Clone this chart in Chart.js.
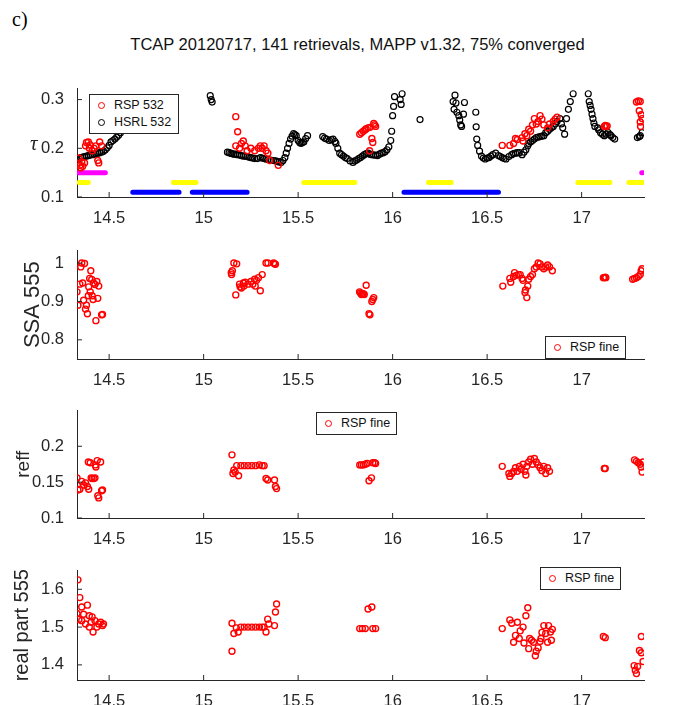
<!DOCTYPE html>
<html>
<head>
<meta charset="utf-8">
<script src="https://cdn.jsdelivr.net/npm/chart.js@4"></script>
<style>
  body { margin: 0; background: #fff; font-family: "Liberation Sans", Arial, sans-serif; }
  #wrap { position: relative; width: 685px; height: 705px; overflow: hidden; }
  .pane { position: absolute; left: 0; width: 685px; }
  .legend { position: absolute; background: #fff; border: 1px solid #262626; font-size: 12.5px; color: #111; padding: 2px 6px; line-height: 17px; }
  .mk { display: inline-block; width: 5px; height: 5px; border: 1.3px solid; border-radius: 50%; margin: 0 9px 0 2px; vertical-align: middle; }
</style>
</head>
<body>
<div id="wrap">
  <div style="position:absolute;left:12px;top:8px;font:20px 'Liberation Serif',serif;">c)</div>
  <div style="position:absolute;left:0;width:715px;top:35px;text-align:center;font-size:16.5px;color:#111;">TCAP 20120717, 141 retrievals, MAPP v1.32, 75% converged</div>

  <div class="pane" style="top:83px;height:144px"><canvas id="c1"></canvas></div>
  <div class="pane" style="top:245px;height:144px"><canvas id="c2"></canvas></div>
  <div class="pane" style="top:405px;height:143px"><canvas id="c3"></canvas></div>
  <div class="pane" style="top:565px;height:145px"><canvas id="c4"></canvas></div>

  <div style="position:absolute;left:30px;top:131px;font:italic 21px 'Liberation Serif',serif;color:#262626;">τ</div>
  <div class="legend" style="left:89px;top:94px;width:76px;"><span class="mk" style="border-color:#f00"></span>RSP 532<br><span class="mk" style="border-color:#000"></span>HSRL 532</div>
  <div class="legend" style="left:545px;top:336px;"><span class="mk" style="border-color:#f00"></span>RSP fine</div>
  <div class="legend" style="left:316px;top:412px;"><span class="mk" style="border-color:#f00"></span>RSP fine</div>
  <div class="legend" style="left:540px;top:567px;"><span class="mk" style="border-color:#f00"></span>RSP fine</div>
</div>
<script>
// x axis (hours UTC) shared by all panels
const xMin = 14.33, xMax = 17.33;
const xTicks = [14.5, 15, 15.5, 16, 16.5, 17];

// panel 1: optical depth at 532
const hsrl532 = [
  [14.33,0.176],[14.34,0.179],[14.35,0.181],[14.36,0.182],[14.37,0.183],[14.38,0.184],[14.39,0.185],[14.40,0.186],
  [14.41,0.187],[14.42,0.188],[14.43,0.189],[14.44,0.19],[14.45,0.191],[14.46,0.192],[14.47,0.194],[14.48,0.197],
  [14.49,0.201],[14.50,0.206],[14.51,0.213],[14.52,0.216],[14.53,0.219],[14.54,0.223],[14.55,0.227],[14.56,0.232],
  [14.57,0.24],[14.58,0.25],
  [15.035,0.308],[15.04,0.300],[15.045,0.295],
  [15.126,0.192],[15.135,0.191],[15.144,0.19],[15.15,0.189],[15.16,0.188],[15.17,0.188],[15.18,0.187],[15.19,0.186],
  [15.20,0.185],[15.21,0.184],[15.22,0.184],[15.23,0.183],[15.24,0.182],[15.25,0.181],[15.26,0.18],[15.27,0.179],
  [15.285,0.179],[15.30,0.181],[15.31,0.18],[15.32,0.179],[15.33,0.178],[15.34,0.177],[15.355,0.176],[15.37,0.175],
  [15.38,0.174],[15.39,0.173],[15.40,0.172],[15.41,0.171],[15.42,0.175],[15.43,0.181],[15.437,0.19],[15.444,0.2],
  [15.452,0.21],[15.46,0.219],[15.468,0.225],[15.476,0.23],[15.483,0.228],[15.49,0.226],[15.5,0.216],[15.508,0.212],
  [15.515,0.21],[15.522,0.212],[15.53,0.213],[15.54,0.22],[15.55,0.226],
  [15.63,0.224],[15.64,0.221],[15.65,0.219],[15.665,0.216],[15.675,0.218],[15.685,0.219],[15.695,0.214],[15.70,0.21],
  [15.71,0.2],[15.72,0.19],[15.73,0.187],[15.74,0.184],[15.75,0.181],[15.76,0.179],[15.775,0.174],[15.79,0.171],
  [15.80,0.174],[15.81,0.176],[15.82,0.179],[15.83,0.181],[15.84,0.184],[15.85,0.187],[15.86,0.189],[15.87,0.19],
  [15.88,0.188],[15.89,0.187],[15.90,0.186],[15.91,0.186],[15.92,0.185],[15.93,0.188],[15.94,0.19],[15.95,0.191],
  [15.96,0.193],[15.97,0.197],[15.98,0.203],[15.99,0.216],[15.995,0.235],[16.0,0.267],[16.005,0.286],[16.01,0.306],
  [16.04,0.30],[16.045,0.29],[16.05,0.312],
  [16.145,0.259],
  [16.32,0.296],[16.325,0.28],[16.33,0.309],[16.335,0.293],[16.34,0.274],[16.35,0.267],[16.355,0.258],[16.36,0.248],
  [16.365,0.245],[16.375,0.27],[16.38,0.294],
  [16.44,0.274],[16.442,0.244],
  [16.445,0.219],[16.45,0.206],[16.46,0.194],[16.47,0.184],[16.48,0.18],[16.49,0.178],[16.50,0.18],[16.51,0.181],
  [16.52,0.184],[16.53,0.187],[16.545,0.19],[16.56,0.185],[16.57,0.183],[16.58,0.181],[16.59,0.179],[16.60,0.178],
  [16.615,0.183],[16.63,0.187],[16.64,0.189],[16.65,0.19],[16.66,0.191],[16.67,0.191],[16.685,0.187],[16.695,0.192],
  [16.705,0.197],[16.715,0.205],[16.72,0.21],[16.73,0.213],[16.74,0.216],[16.75,0.219],[16.76,0.222],[16.77,0.223],
  [16.78,0.224],[16.79,0.225],[16.8,0.226],[16.81,0.232],[16.82,0.235],[16.83,0.239],[16.84,0.242],[16.85,0.245],
  [16.86,0.25],[16.87,0.255],[16.885,0.261],[16.893,0.25],[16.9,0.242],[16.91,0.229],[16.92,0.261],[16.93,0.28],
  [16.94,0.296],[16.955,0.312],
  [17.035,0.312],[17.04,0.296],[17.045,0.288],[17.05,0.28],[17.055,0.27],[17.06,0.261],[17.065,0.252],[17.07,0.245],
  [17.085,0.242],[17.09,0.238],[17.1,0.232],[17.11,0.229],[17.12,0.226],[17.13,0.229],[17.14,0.232],[17.15,0.228],
  [17.155,0.226],[17.165,0.222],[17.175,0.219],
  [17.295,0.222],[17.305,0.224],[17.31,0.226],[17.32,0.232]
];
const rsp532 = [
  [14.34,0.18],[14.345,0.165],[14.35,0.16],[14.355,0.172],[14.36,0.163],[14.37,0.17],[14.375,0.205],[14.38,0.212],
  [14.39,0.213],[14.395,0.2],[14.40,0.207],[14.41,0.195],[14.42,0.2],[14.43,0.205],[14.44,0.175],[14.445,0.17],
  [14.45,0.213],[14.46,0.205],
  [15.17,0.265],[15.18,0.234],[15.17,0.205],[15.19,0.2],[15.2,0.21],[15.21,0.215],[15.22,0.205],[15.23,0.195],
  [15.25,0.2],[15.27,0.195],[15.29,0.2],[15.3,0.205],[15.31,0.2],[15.32,0.205],[15.33,0.195],[15.34,0.19],
  [15.35,0.175],[15.395,0.165],
  [15.826,0.229],[15.835,0.232],[15.845,0.235],[15.855,0.238],[15.86,0.24],[15.87,0.242],[15.88,0.243],[15.878,0.195],
  [15.89,0.22],[15.895,0.212],[15.9,0.251],[15.905,0.248],[15.91,0.245],
  [16.58,0.206],[16.62,0.206],[16.64,0.21],[16.65,0.22],[16.66,0.218],[16.685,0.222],[16.69,0.215],[16.7,0.23],
  [16.71,0.226],[16.72,0.239],[16.73,0.235],[16.74,0.248],[16.75,0.261],[16.76,0.25],[16.77,0.255],[16.78,0.267],
  [16.79,0.26],[16.8,0.248],[16.82,0.242],[16.83,0.25],[16.85,0.255],[16.86,0.26],[16.87,0.264],
  [17.12,0.245],[17.125,0.247],[17.13,0.245],[17.135,0.246],
  [17.29,0.295],[17.3,0.297],[17.31,0.296],[17.305,0.277],[17.315,0.269],[17.32,0.261],[17.31,0.254],[17.312,0.245]
];
// flight-leg bars in panel 1: [start, end] per leg
const yellowLegs = [[14.34,14.39],[14.84,14.96],[15.53,15.8],[16.19,16.31],[16.98,17.15],[17.25,17.33]];
const blueLegs = [[14.625,14.87],[14.94,15.23],[16.06,16.56]];
const magentaLegs = [[14.33,14.48],[17.318,17.325]];

// panel 2: SSA 555
const ssa555 = [
  [14.33,0.925],[14.335,0.89],[14.345,0.945],[14.35,0.99],[14.355,1.0],[14.36,0.948],[14.365,0.903],[14.37,0.999],
  [14.375,0.88],[14.38,0.89],[14.385,0.868],[14.39,0.915],[14.392,0.938],[14.397,0.96],[14.40,0.925],[14.403,0.98],
  [14.408,0.957],[14.41,0.915],[14.415,0.905],[14.418,0.948],[14.425,0.944],[14.43,0.85],[14.435,0.952],[14.44,0.908],
  [14.445,0.94],[14.46,0.865],[14.465,0.866],
  [15.146,0.975],[15.148,0.97],[15.152,0.98],[15.16,1.0],[15.17,0.917],[15.175,0.998],[15.19,0.945],[15.193,0.938],
  [15.2,0.935],[15.21,0.948],[15.213,0.94],[15.22,0.95],[15.235,0.945],[15.25,0.952],[15.26,0.945],[15.27,0.958],
  [15.273,0.94],[15.28,0.955],[15.29,0.962],[15.3,0.928],[15.31,0.97],[15.33,1.0],[15.34,1.0],[15.37,1.0],[15.375,0.998],
  [15.38,0.997],
  [15.825,0.925],[15.83,0.922],[15.835,0.918],[15.84,0.92],[15.845,0.92],[15.85,0.918],[15.86,0.942],[15.875,0.868],
  [15.88,0.865],[15.89,0.9],[15.895,0.905],[15.9,0.91],
  [16.583,0.94],[16.62,0.96],[16.625,0.95],[16.64,0.965],[16.645,0.975],[16.655,0.968],[16.665,0.97],[16.675,0.97],
  [16.685,0.96],[16.69,0.955],[16.7,0.923],[16.703,0.93],[16.71,0.91],[16.715,0.94],[16.72,0.958],[16.73,0.965],
  [16.74,0.97],[16.75,0.985],[16.76,0.99],[16.77,1.0],[16.78,0.998],[16.79,0.99],[16.8,0.985],[16.81,0.99],[16.82,0.995],
  [16.83,0.99],[16.845,0.98],
  [17.115,0.962],[17.12,0.962],[17.125,0.963],[17.128,0.962],
  [17.27,0.958],[17.28,0.96],[17.29,0.962],[17.3,0.965],[17.31,0.97],[17.315,0.98],[17.32,0.985]
];

// panel 3: effective radius
const reff = [
  [14.33,0.156],[14.335,0.139],[14.345,0.14],[14.355,0.151],[14.365,0.146],[14.375,0.149],[14.385,0.144],[14.392,0.14],
  [14.39,0.178],[14.40,0.177],[14.405,0.156],[14.41,0.155],[14.42,0.155],[14.425,0.156],[14.427,0.174],[14.43,0.171],
  [14.437,0.18],[14.44,0.131],[14.445,0.128],[14.455,0.178],[14.46,0.138],[14.465,0.139],
  [15.15,0.188],[15.155,0.162],[15.16,0.167],[15.167,0.164],[15.175,0.173],[15.185,0.159],[15.197,0.173],[15.215,0.173],
  [15.235,0.173],[15.255,0.173],[15.275,0.173],[15.295,0.174],[15.31,0.173],[15.32,0.173],[15.33,0.155],[15.339,0.153],
  [15.375,0.153],[15.38,0.144],[15.386,0.141],
  [15.826,0.174],[15.835,0.174],[15.845,0.174],[15.855,0.175],[15.865,0.176],[15.875,0.152],[15.888,0.156],
  [15.895,0.177],[15.905,0.177],[15.91,0.176],
  [16.58,0.172],[16.615,0.162],[16.62,0.158],[16.63,0.162],[16.64,0.165],[16.65,0.17],[16.66,0.165],[16.67,0.172],
  [16.68,0.168],[16.69,0.175],[16.7,0.165],[16.705,0.16],[16.71,0.172],[16.72,0.178],[16.73,0.182],[16.74,0.175],
  [16.75,0.183],[16.76,0.178],[16.77,0.174],[16.78,0.17],[16.79,0.166],[16.8,0.172],[16.81,0.162],[16.82,0.17],
  [16.83,0.165],
  [17.12,0.169],[17.125,0.169],
  [17.28,0.181],[17.29,0.179],[17.3,0.177],[17.31,0.175],[17.315,0.171],[17.32,0.164],[17.325,0.178]
];

// panel 4: real refractive index 555
const realPart = [
  [14.335,1.625],[14.345,1.578],[14.33,1.536],[14.355,1.553],[14.34,1.52],[14.355,1.517],[14.365,1.534],[14.385,1.558],
  [14.375,1.508],[14.395,1.53],[14.405,1.513],[14.41,1.527],[14.415,1.487],[14.425,1.517],[14.435,1.5],[14.445,1.508],
  [14.455,1.513],[14.465,1.504],[14.47,1.508],[14.395,1.5],
  [15.15,1.436],[15.15,1.51],[15.16,1.483],[15.173,1.498],[15.183,1.487],[15.197,1.5],[15.215,1.5],[15.235,1.5],
  [15.255,1.5],[15.275,1.5],[15.295,1.5],[15.31,1.5],[15.32,1.5],[15.33,1.487],[15.339,1.521],[15.345,1.508],
  [15.375,1.504],[15.38,1.54],[15.386,1.561],
  [15.826,1.496],[15.84,1.496],[15.855,1.496],[15.87,1.548],[15.89,1.553],[15.895,1.496],[15.91,1.496],
  [16.58,1.496],[16.62,1.519],[16.63,1.51],[16.64,1.46],[16.65,1.478],[16.66,1.513],[16.67,1.47],[16.675,1.49],
  [16.69,1.5],[16.695,1.458],[16.705,1.53],[16.715,1.551],[16.72,1.443],[16.725,1.47],[16.735,1.465],[16.745,1.46],
  [16.755,1.424],[16.76,1.436],[16.77,1.445],[16.78,1.462],[16.785,1.47],[16.79,1.486],[16.8,1.504],[16.81,1.483],
  [16.82,1.46],[16.825,1.504],[16.835,1.487],[16.84,1.465],[16.845,1.494],
  [17.115,1.475],[17.125,1.472],
  [17.278,1.398],[17.284,1.386],[17.29,1.377],[17.296,1.396],[17.306,1.438],[17.316,1.432],[17.316,1.475],[17.325,1.409]
];

const ink = '#262626';
const tickFont = { family: 'Liberation Sans', size: 16.5 };

function pts(arr) { return arr.map(p => ({ x: p[0], y: p[1] })); }

function legBars(legs, y) {
  const out = [];
  legs.forEach(l => { out.push({ x: l[0], y: y }, { x: l[1], y: y }, { x: l[1] + 0.001, y: null }); });
  return out;
}

// MATLAB-style inward tick marks
const inwardTicks = {
  id: 'inwardTicks',
  afterDraw(chart) {
    const c = chart.ctx, a = chart.chartArea;
    c.save();
    c.strokeStyle = ink; c.lineWidth = 1;
    chart.scales.x.ticks.forEach(t => {
      const px = chart.scales.x.getPixelForValue(t.value);
      c.beginPath(); c.moveTo(px, a.bottom); c.lineTo(px, a.bottom - 5); c.stroke();
    });
    chart.scales.y.ticks.forEach(t => {
      const py = chart.scales.y.getPixelForValue(t.value);
      c.beginPath(); c.moveTo(a.left, py); c.lineTo(a.left + 5, py); c.stroke();
    });
    c.restore();
  }
};

function redSet(arr) {
  return { data: pts(arr), showLine: false, pointRadius: 3, pointBorderWidth: 1.4,
    pointBorderColor: '#f00', pointBackgroundColor: 'rgba(0,0,0,0)' };
}

function makePanel(id, datasets, yMin, yMax, yTicks, yTitle, titleFont, titlePad) {
  return new Chart(document.getElementById(id), {
    type: 'scatter',
    data: { datasets: datasets },
    plugins: [inwardTicks],
    options: {
      responsive: true, maintainAspectRatio: false, animation: false,
      layout: { padding: { top: 0, right: 41, left: 0, bottom: 0 } },
      plugins: { legend: { display: false }, tooltip: { enabled: false } },
      scales: {
        x: {
          type: 'linear', min: xMin, max: xMax,
          afterBuildTicks: s => { s.ticks = xTicks.map(v => ({ value: v })); },
          afterFit: s => { s.height = 30; s.paddingLeft = 0; s.paddingRight = 0; },
          grid: { display: false }, border: { display: true, color: ink },
          ticks: { color: ink, font: tickFont, padding: 4, callback: v => String(v) }
        },
        y: {
          min: yMin, max: yMax,
          afterBuildTicks: s => { s.ticks = yTicks.map(v => ({ value: v })); },
          afterFit: s => { s.width = 77; s.paddingTop = 0; s.paddingBottom = 0; },
          grid: { display: false }, border: { display: true, color: ink },
          ticks: { color: ink, font: tickFont, padding: 5, callback: v => String(v) },
          title: { display: yTitle !== '', text: yTitle, color: ink, font: titleFont, padding: { top: titlePad, bottom: 0 } }
        }
      }
    }
  });
}

const bar = (legs, y, col) => ({ data: legBars(legs, y), showLine: true, spanGaps: false, borderColor: col,
  borderWidth: 5, borderCapStyle: 'round', pointRadius: 0 });

makePanel('c1', [
  redSet(rsp532),
  { data: pts(hsrl532), showLine: false, pointRadius: 3, pointBorderWidth: 1.2,
    pointBorderColor: '#000', pointBackgroundColor: 'rgba(0,0,0,0)' },
  bar(yellowLegs, 0.13, '#ffff00'),
  bar(blueLegs, 0.11, '#0000ff'),
  bar(magentaLegs, 0.15, '#ff00ff')
], 0.1, 0.323, [0.1, 0.2, 0.3], '', {}, 0);

makePanel('c2', [redSet(ssa555)], 0.75, 1.033, [0.8, 0.9, 1], 'SSA 555', { family: 'Liberation Sans', size: 22 }, 20);
makePanel('c3', [redSet(reff)], 0.1, 0.25, [0.1, 0.15, 0.2], 'reff', { family: 'Liberation Sans', size: 19 }, 12);
makePanel('c4', [redSet(realPart)], 1.36, 1.65, [1.4, 1.5, 1.6], 'real part 555', { family: 'Liberation Sans', size: 20 }, 10);
</script>
</body>
</html>
